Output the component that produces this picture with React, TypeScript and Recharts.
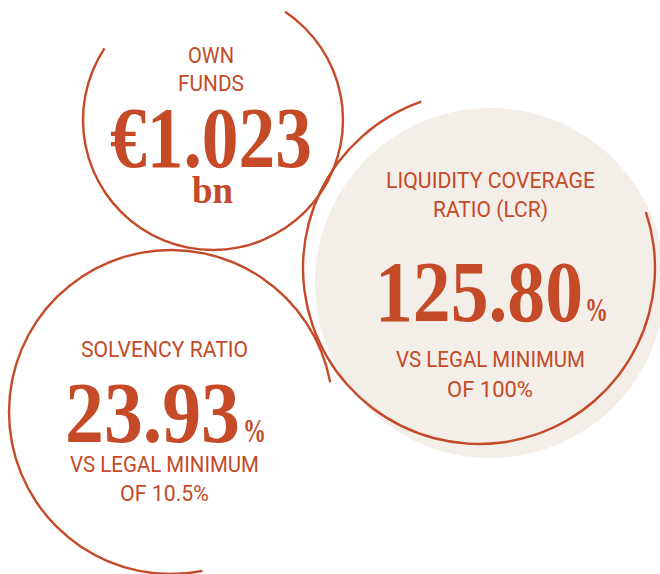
import React from "react";
import { PieChart, Pie, Cell } from "recharts";

// ---- data ----
const metricTitles: string[][] = [["OWN", "FUNDS"], ["LIQUIDITY COVERAGE", "RATIO (LCR)"], ["SOLVENCY RATIO"]];
const metricValues: string[] = ["€1.023", "125.80", "23.93"];
const metricUnits: string[] = ["bn", "%", "%"];
const metricNotes: string[][] = [[], ["VS LEGAL MINIMUM", "OF 100%"], ["VS LEGAL MINIMUM", "OF 10.5%"]];
const ringShare = [{ name: "ring", value: 1 }];

// ---- style ----
const RED = "#c44a28";
const BEIGE = "#f3eee8";
const SANS = "Roboto, 'Liberation Sans', sans-serif";
const SERIF = "'Liberation Serif', 'DejaVu Serif', serif";

type TextSpec = { text: string; x: number; y: number; w: number; kind: "label" | "big" | "unit" | "pct" };

const buildTexts = (): TextSpec[] => [
  { text: metricTitles[0][0], x: 188, y: 62.7, w: 46, kind: "label" },
  { text: metricTitles[0][1], x: 178, y: 91, w: 66, kind: "label" },
  { text: metricValues[0], x: 110, y: 167, w: 202, kind: "big" },
  { text: metricUnits[0], x: 192, y: 203, w: 41, kind: "unit" },
  { text: metricTitles[1][0], x: 386, y: 188, w: 209, kind: "label" },
  { text: metricTitles[1][1], x: 433, y: 217, w: 115, kind: "label" },
  { text: metricValues[1], x: 375, y: 321, w: 208, kind: "big" },
  { text: metricUnits[1], x: 585, y: 321, w: 23, kind: "pct" },
  { text: metricNotes[1][0], x: 396, y: 367, w: 189, kind: "label" },
  { text: metricNotes[1][1], x: 447, y: 397, w: 86, kind: "label" },
  { text: metricTitles[2][0], x: 81, y: 357, w: 167, kind: "label" },
  { text: metricValues[2], x: 65, y: 442, w: 175, kind: "big" },
  { text: metricUnits[2], x: 243, y: 442, w: 23, kind: "pct" },
  { text: metricNotes[2][0], x: 70, y: 472, w: 189, kind: "label" },
  { text: metricNotes[2][1], x: 120, y: 501, w: 89, kind: "label" },
];

const styleFor = (kind: TextSpec["kind"]) => {
  switch (kind) {
    case "label":
      return { fontFamily: SANS, fontSize: 21.5, fontWeight: 400 };
    case "big":
      return { fontFamily: SERIF, fontSize: 86, fontWeight: 700 };
    case "unit":
      return { fontFamily: SERIF, fontSize: 38, fontWeight: 700 };
    case "pct":
      return { fontFamily: SERIF, fontSize: 34, fontWeight: 700 };
  }
};

const TextLayer = () => (
  <svg
    width={660}
    height={574}
    style={{ position: "absolute", left: 0, top: 0, pointerEvents: "none" }}
  >
    {buildTexts().map((t, i) => (
      <text
        key={i}
        x={t.x}
        y={t.y}
        textLength={t.w}
        lengthAdjust="spacingAndGlyphs"
        fill={RED}
        {...styleFor(t.kind)}
      >
        {t.text}
      </text>
    ))}
  </svg>
);

export default function App() {
  const rings = [
    { id: "own", cx: 213, cy: 120, r: 130, start: 146.6, end: 416.3 },
    { id: "lcr", cx: 479, cy: 268, r: 176, start: 109.1, end: 378.5 },
    { id: "solv", cx: 171, cy: 412, r: 162, start: 10.6, end: 281.2 },
  ];
  return (
    <div style={{ position: "absolute", left: 0, top: 0, width: 660, height: 574 }}>
      <PieChart width={660} height={574} margin={{ top: 0, right: 0, bottom: 0, left: 0 }}>
        <Pie
          data={ringShare}
          dataKey="value"
          cx={490}
          cy={283}
          innerRadius={0}
          outerRadius={175}
          startAngle={0}
          endAngle={360}
          stroke="none"
          isAnimationActive={false}
        >
          <Cell fill={BEIGE} />
        </Pie>
        {rings.map((g) => (
          <Pie
            key={g.id}
            data={ringShare}
            dataKey="value"
            cx={g.cx}
            cy={g.cy}
            innerRadius={g.r - 1.2}
            outerRadius={g.r + 1.2}
            startAngle={g.start}
            endAngle={g.end}
            stroke="none"
            isAnimationActive={false}
          >
            <Cell fill={RED} />
          </Pie>
        ))}
      </PieChart>
      <TextLayer />
    </div>
  );
}
